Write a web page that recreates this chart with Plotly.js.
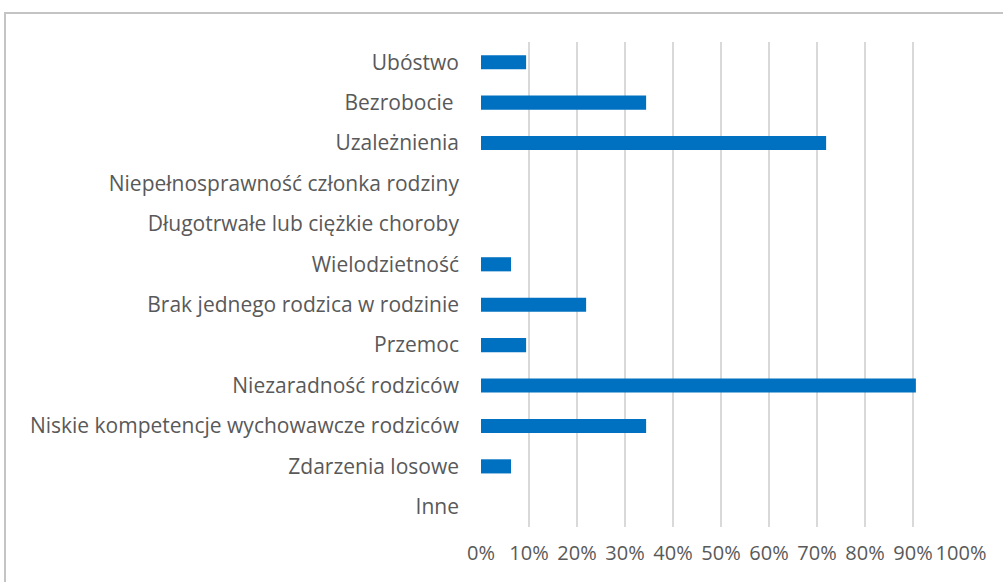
<!DOCTYPE html>
<html>
<head>
<meta charset="utf-8">
<script src="https://cdn.plot.ly/plotly-3.0.1.min.js"></script>
<style>
html,body{margin:0;padding:0;background:#fff;overflow:hidden;}
#chart{width:1003px;height:582px;position:absolute;left:0;top:0;}
#frame{position:absolute;left:4px;top:12px;width:1100px;height:700px;border:2px solid #c4c4c4;pointer-events:none;}
</style>
</head>
<body>
<div id="chart"></div>
<div id="frame"></div>
<script>
const categories = [
  "Ubóstwo",
  "Bezrobocie ",
  "Uzależnienia",
  "Niepełnosprawność członka rodziny",
  "Długotrwałe lub ciężkie choroby",
  "Wielodzietność",
  "Brak jednego rodzica w rodzinie",
  "Przemoc",
  "Niezaradność rodziców",
  "Niskie kompetencje wychowawcze rodziców",
  "Zdarzenia losowe",
  "Inne"
];
const values = [0.094, 0.344, 0.719, 0, 0, 0.0625, 0.219, 0.094, 0.906, 0.344, 0.0625, 0];
const tickVals = [0,0.1,0.2,0.3,0.4,0.5,0.6,0.7,0.8,0.9,1.0];
const tickText = ["0%","10%","20%","30%","40%","50%","60%","70%","80%","90%","100%"];

const fam = "Open Sans, Liberation Sans, sans-serif";
const yFont = {family: fam, size: 21, color: "#595959"};
const xFont = {family: fam, size: 20, color: "#595959"};

Plotly.newPlot("chart", [{
  type: "bar",
  orientation: "h",
  y: categories,
  x: values,
  marker: {color: "#0070C0", line: {width: 0}},
  hoverinfo: "x+y"
}], {
  width: 1003,
  height: 582,
  margin: {l: 481, r: 42, t: 42, b: 55, pad: 0},
  paper_bgcolor: "#ffffff",
  plot_bgcolor: "#ffffff",
  bargap: 0.65,
  showlegend: false,
  font: yFont,
  xaxis: {
    range: [0, 1.0],
    tickvals: tickVals,
    ticktext: tickText,
    showgrid: true,
    gridcolor: "#d9d9d9",
    gridwidth: 1.5,
    zeroline: false,
    showline: false,
    ticks: "",
    ticklabelstandoff: 12,
    tickfont: xFont,
    fixedrange: true
  },
  yaxis: {
    type: "category",
    categoryorder: "array",
    categoryarray: categories,
    autorange: "reversed",
    showgrid: false,
    zeroline: false,
    showline: false,
    ticks: "",
    ticklabelstandoff: 21,
    tickfont: yFont,
    fixedrange: true
  }
}, {displayModeBar: false, staticPlot: true});
</script>
</body>
</html>
